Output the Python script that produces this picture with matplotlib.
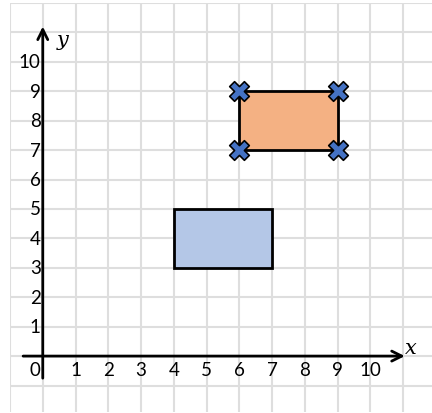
import matplotlib
matplotlib.use("Agg")
import matplotlib.pyplot as plt
from matplotlib.patches import Polygon

# Data
x_tick_values = [0, 1, 2, 3, 4, 5, 6, 7, 8, 9, 10]
y_tick_values = [1, 2, 3, 4, 5, 6, 7, 8, 9, 10]
blue_rect_x = [4, 7, 7, 4]
blue_rect_y = [3, 3, 5, 5]
orange_rect_x = [6, 9, 9, 6]
orange_rect_y = [7, 7, 9, 9]
marker_x = [6, 9, 6, 9]
marker_y = [9, 9, 7, 7]

W, H = 432, 414
fig = plt.figure(figsize=(W / 100, H / 100), dpi=100)
ax = fig.add_axes([10 / W, 1 - 413 / H, 422 / W, 409 / H])
ax.set_xlim(-1, 11.88)
ax.set_ylim(-1.9, 12)

for s in ax.spines.values():
    s.set_visible(False)
ax.set_xticks(range(-1, 12))
ax.set_yticks(range(-1, 13))
ax.tick_params(length=0, labelbottom=False, labelleft=False)
ax.grid(True, color="#dedede", linewidth=1.5)
ax.set_axisbelow(True)

# axes with arrows
ax.annotate("", xy=(11.05, 0), xytext=(-0.6, 0),
            arrowprops=dict(arrowstyle="->", color="black", lw=2,
                            mutation_scale=18, shrinkA=0, shrinkB=0))
ax.annotate("", xy=(0, 11.2), xytext=(0, -0.75),
            arrowprops=dict(arrowstyle="->", color="black", lw=2,
                            mutation_scale=18, shrinkA=0, shrinkB=0))

font = "Lato"
fs = 13.5
for v in x_tick_values:
    if v == 0:
        ax.text(-0.06, -0.45, "0", ha="right", va="center", fontsize=fs, family=font)
    else:
        ax.text(v, -0.45, str(v), ha="center", va="center", fontsize=fs, family=font)
for v in y_tick_values:
    ax.text(-0.06, v, str(v), ha="right", va="center", fontsize=fs, family=font)

ax.text(0.42, 10.75, "y", fontsize=15, style="italic", family="DejaVu Serif",
        ha="left", va="center")
ax.text(11.05, 0.3, "x", fontsize=15, style="italic", family="DejaVu Serif",
        ha="left", va="center")

ax.add_patch(Polygon(list(zip(blue_rect_x, blue_rect_y)), closed=True,
                     facecolor="#b4c7e7", edgecolor="black", lw=2, zorder=3))
ax.add_patch(Polygon(list(zip(orange_rect_x, orange_rect_y)), closed=True,
                     facecolor="#f4b183", edgecolor="black", lw=2, zorder=3))
ax.scatter(marker_x, marker_y, marker="X", s=200, color="#4472c4",
           edgecolors="black", linewidths=1.2, zorder=4)

fig.savefig("out.png", dpi=100)
